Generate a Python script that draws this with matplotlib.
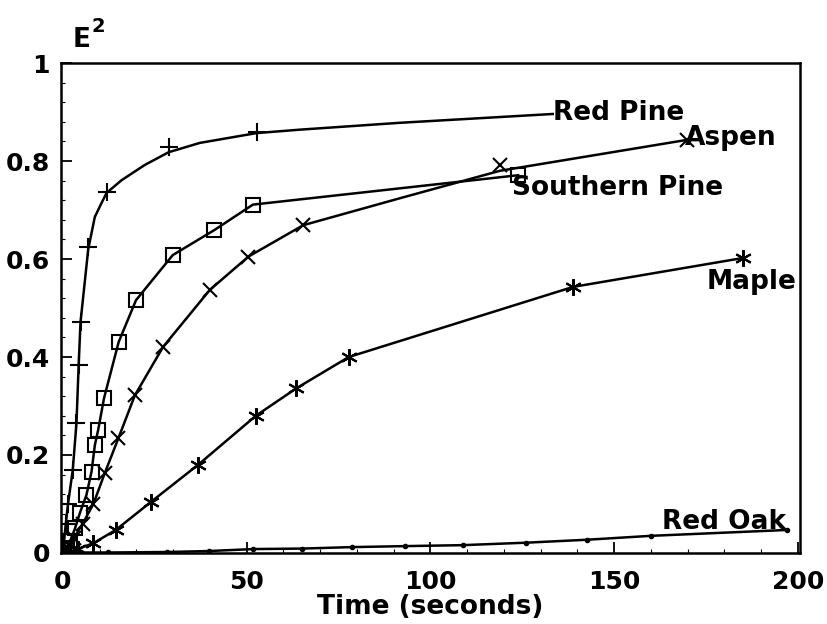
import matplotlib
matplotlib.use("Agg")
import matplotlib.pyplot as plt
from matplotlib.ticker import MultipleLocator

# marker points
red_pine_t = [0, 0.4, 0.8, 1.4, 2.7, 3.7, 4.3, 4.8, 6.9, 11.9, 28.8, 52.7]
red_pine_e = [0, 0.02, 0.06, 0.10, 0.169, 0.265, 0.384, 0.471, 0.625, 0.737, 0.829, 0.859]
# curve (fitted line) points
red_pine_ct = [0, 0.8, 1.4, 2.7, 3.7, 4.3, 4.8, 6.9, 8.7, 10.5, 11.9, 16.0, 22.3, 28.8, 37.3, 52.7, 64.5, 91.7, 133.3]
red_pine_ce = [0, 0.06, 0.10, 0.17, 0.265, 0.384, 0.471, 0.62, 0.686, 0.714, 0.735, 0.761, 0.792, 0.818, 0.837, 0.857, 0.864, 0.878, 0.896]

south_t = [0, 1.0, 2.0, 3.3, 4.6, 6.4, 7.8, 8.7, 9.6, 11.2, 15.2, 19.9, 29.9, 41.2, 51.7, 123.9]
south_e = [0, 0.01, 0.025, 0.05, 0.081, 0.118, 0.166, 0.22, 0.251, 0.316, 0.431, 0.516, 0.608, 0.659, 0.711, 0.771]

aspen_t = [0, 1.5, 3.0, 5.4, 8.3, 11.4, 15.1, 19.6, 27.3, 40.0, 50.5, 65.4, 118.9, 169.7]
aspen_e = [0, 0.01, 0.03, 0.06, 0.10, 0.163, 0.234, 0.322, 0.421, 0.537, 0.605, 0.669, 0.792, 0.843]
aspen_ct = [0, 1.5, 3.0, 5.4, 8.3, 11.4, 15.1, 19.6, 27.3, 40.0, 50.5, 65.4, 91.7, 118.9, 169.7]
aspen_ce = [0, 0.01, 0.03, 0.06, 0.10, 0.163, 0.234, 0.322, 0.421, 0.537, 0.605, 0.669, 0.724, 0.780, 0.843]

maple_t = [0, 2.0, 4.0, 8.3, 14.4, 24.1, 36.8, 52.5, 63.5, 77.8, 138.8, 185.0]
maple_e = [0, 0.003, 0.008, 0.02, 0.047, 0.105, 0.18, 0.28, 0.336, 0.40, 0.543, 0.602]

oak_t = [0, 2.0, 5.0, 12.2, 28.3, 39.8, 51.8, 65.0, 78.6, 93.0, 108.8, 126.0, 142.5, 160.0, 197.0]
oak_e = [0, 0, 0.001, 0.001, 0.002, 0.004, 0.008, 0.009, 0.012, 0.014, 0.016, 0.021, 0.027, 0.035, 0.047]

labels = ["Red Pine", "Aspen", "Southern Pine", "Maple", "Red Oak"]
label_t = [133.3, 169.2, 122.2, 175.2, 163.0]
label_e = [0.898, 0.847, 0.745, 0.553, 0.063]

plt.rcParams["font.family"] = "DejaVu Sans"
plt.rcParams["font.size"] = 18
plt.rcParams["font.weight"] = "bold"
plt.rcParams["axes.labelweight"] = "bold"

fig = plt.figure(figsize=(8.27, 6.24), dpi=100)
ax = fig.add_axes([0.0738, 0.1138, 0.8932, 0.7852])

lw = 1.8
ax.plot(red_pine_ct, red_pine_ce, color="black", lw=lw)
ax.plot(red_pine_t, red_pine_e, ls="none", marker="+", ms=13, mew=1.5, color="black")

ax.plot(south_t, south_e, color="black", lw=lw)
ax.plot(south_t, south_e, ls="none", marker="s", ms=9.5, mew=1.5, mfc="none", color="black")

ax.plot(aspen_ct, aspen_ce, color="black", lw=lw)
ax.plot(aspen_t, aspen_e, ls="none", marker="x", ms=10, mew=1.5, color="black")

ax.plot(maple_t, maple_e, color="black", lw=lw, marker=(6, 2, 0), ms=12, mew=1.5)

ax.plot(oak_t, oak_e, color="black", lw=lw, marker="o", ms=3)

for name, t, e in zip(labels, label_t, label_e):
    ax.text(t, e, name, ha="left", va="center", fontsize=19, fontweight="bold")

ax.set_xlim(-0.5, 200.5)
ax.set_ylim(0, 1)
ax.xaxis.set_major_locator(MultipleLocator(50))
ax.xaxis.set_minor_locator(MultipleLocator(10))
ax.yaxis.set_minor_locator(MultipleLocator(0.04))
ax.set_yticks([0, 0.2, 0.4, 0.6, 0.8, 1.0])
ax.set_yticklabels(["0", "0.2", "0.4", "0.6", "0.8", "1"])
ax.tick_params(which="major", direction="in", length=8, width=1.3)
ax.tick_params(axis="x", which="major", pad=12)
ax.tick_params(axis="y", which="major", pad=8)
ax.tick_params(which="minor", direction="in", length=3, width=0.8)
ax.tick_params(axis="both", top=False, right=False, which="both")
for s in ax.spines.values():
    s.set_linewidth(1.8)

ax.set_xlabel("Time (seconds)", labelpad=0, fontsize=19)
fig.text(0.088, 0.915, "E", fontsize=19, fontweight="bold", ha="left", va="bottom")
fig.text(0.111, 0.943, "2", fontsize=14, fontweight="bold", ha="left", va="bottom")

fig.savefig("out.png", dpi=100)
